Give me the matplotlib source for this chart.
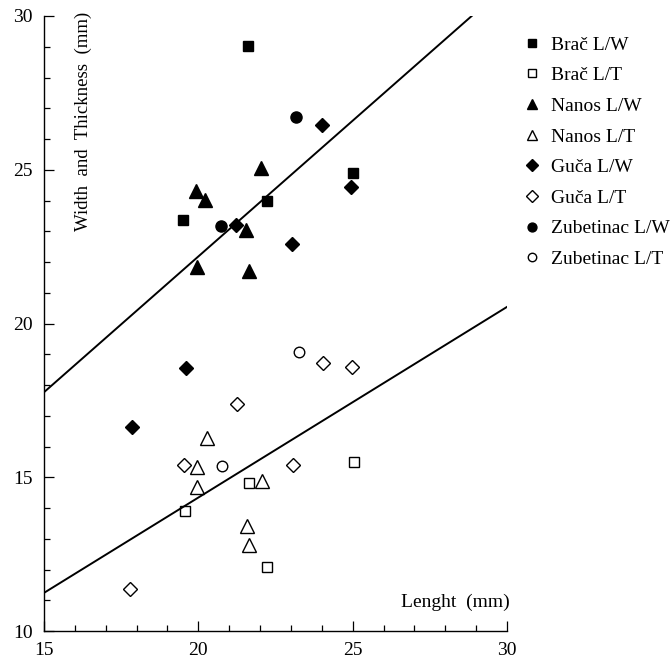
import numpy as np
import matplotlib
matplotlib.use('Agg')
import matplotlib.pyplot as plt
from matplotlib.ticker import MultipleLocator

plt.rcParams['font.family'] = ['Liberation Serif', 'DejaVu Serif']

# data (length, width / thickness in mm)
brac_len_w = [21.60, 22.21, 19.51, 25.00]
brac_w = [29.03, 23.97, 23.37, 24.91]
brac_len_t = [25.05, 21.65, 19.58, 22.23]
brac_t = [15.48, 14.82, 13.90, 12.09]

nanos_len_w = [22.02, 19.92, 20.22, 21.54, 19.95, 21.65]
nanos_w = [25.05, 24.32, 24.02, 23.05, 21.85, 21.72]
nanos_len_t = [20.27, 19.97, 19.95, 22.07, 21.57, 21.65]
nanos_t = [16.29, 15.32, 14.67, 14.88, 13.41, 12.80]

guca_len_w = [21.22, 24.00, 24.95, 23.02, 19.59, 17.84]
guca_w = [23.20, 26.45, 24.43, 22.58, 18.56, 16.64]
guca_len_t = [21.24, 19.54, 24.05, 24.99, 23.06, 17.79]
guca_t = [17.38, 15.40, 18.73, 18.60, 15.40, 11.38]

zub_len_w = [20.72, 23.18]
zub_w = [23.17, 26.73]
zub_len_t = [20.76, 23.27]
zub_t = [15.37, 19.06]

# fitted lines (slope, intercept)
fit_w = (0.883, 4.52)
fit_t = (0.62, 1.94)
fit_x = [15, 30]

fig = plt.figure(figsize=(6.71, 6.58), dpi=100)
ax = fig.add_axes([44 / 671, 27 / 658, 463 / 671, 615 / 658])

k = 'black'
ax.plot(brac_len_w, brac_w, 's', ms=7.8, color=k, label='Brač L/W')
ax.plot(brac_len_t, brac_t, 's', ms=7.2, mfc='white', mec=k, mew=1.0, label='Brač L/T')
ax.plot(nanos_len_w, nanos_w, '^', ms=9.5, color=k, label='Nanos L/W')
ax.plot(nanos_len_t, nanos_t, '^', ms=9.5, mfc='white', mec=k, mew=1.0, label='Nanos L/T')
ax.plot(guca_len_w, guca_w, 'D', ms=7.4, color=k, label='Guča L/W')
ax.plot(guca_len_t, guca_t, 'D', ms=7.2, mfc='white', mec=k, mew=1.0, label='Guča L/T')
ax.plot(zub_len_w, zub_w, 'o', ms=8, color=k, label='Zubetinac L/W')
ax.plot(zub_len_t, zub_t, 'o', ms=7.6, mfc='white', mec=k, mew=1.0, label='Zubetinac L/T')

xs = np.array(fit_x)
ax.plot(xs, fit_w[0] * xs + fit_w[1], color=k, lw=1.4)
ax.plot(xs, fit_t[0] * xs + fit_t[1], color=k, lw=1.4)

ax.set_xlim(15, 30)
ax.set_ylim(10, 30)
ax.xaxis.set_major_locator(MultipleLocator(5))
ax.xaxis.set_minor_locator(MultipleLocator(1))
ax.yaxis.set_major_locator(MultipleLocator(5))
ax.yaxis.set_minor_locator(MultipleLocator(1))
ax.tick_params(which='both', direction='in', width=0.9, color=k, labelsize=14, pad=8)
ax.tick_params(which='major', length=7)
ax.tick_params(which='minor', length=4.5)
ax.spines['top'].set_visible(False)
ax.spines['right'].set_visible(False)
for s in ('left', 'bottom'):
    ax.spines[s].set_linewidth(1.0)

ax.set_ylabel('Width  and  Thickness  (mm)', fontsize=13.5, va='center', ha='center')
ax.yaxis.set_label_coords(0.085, 0.828)
ax.set_xlabel('Lenght  (mm)', fontsize=14, ha='right', va='center')
ax.xaxis.set_label_coords(1.006, 0.047)

leg = ax.legend(loc='upper left', bbox_to_anchor=(524 / 671, (658 - 36) / 658),
                bbox_transform=fig.transFigure, frameon=False, fontsize=14,
                borderpad=0, borderaxespad=0, handlelength=0.8, handletextpad=0.6,
                labelspacing=0.67, markerscale=0.8)

fig.savefig('out.png', dpi=100)
